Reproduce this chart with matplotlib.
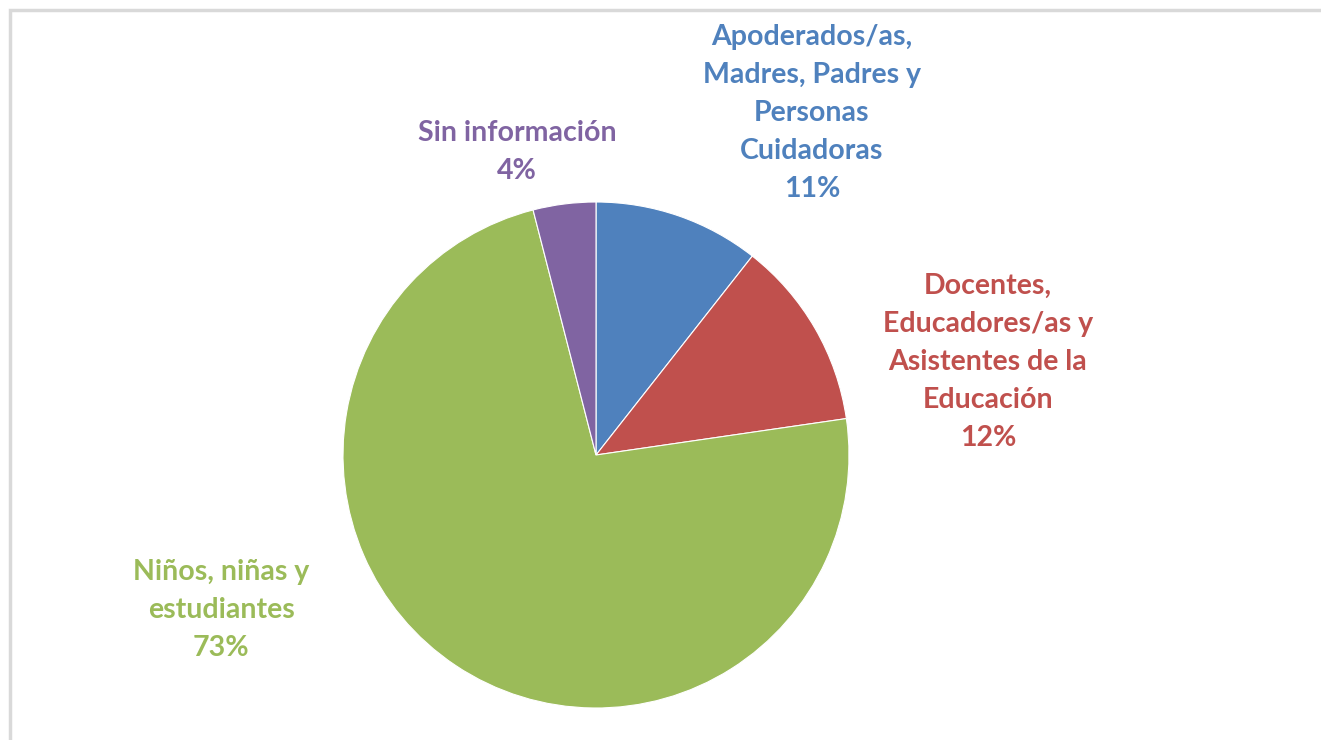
import matplotlib
matplotlib.use('Agg')
import matplotlib.pyplot as plt
from matplotlib.patches import Rectangle

# slices clockwise from 12 o'clock
categories = [
    'Apoderados/as,\nMadres, Padres y\nPersonas\nCuidadoras',
    'Docentes,\nEducadores/as y\nAsistentes de la\nEducación',
    'Niños, niñas y\nestudiantes',
    'Sin información',
]
shares = [10.6, 12.1, 73.3, 4.0]
colors = ['#4F81BD', '#C0504D', '#9BBB59', '#8064A2']
text_colors = ['#4F81BD', '#C0504D', '#9BBB59', '#8064A2']

# label anchor (pixel centre of each text block)
label_pos = [(812, 113), (988, 362), (221, 610), (517, 152)]

W, H = 1321, 740


def main():
    plt.rcParams['font.family'] = ['Lato', 'DejaVu Sans']
    fig = plt.figure(figsize=(W / 100, H / 100), dpi=100)
    ax = fig.add_axes([0, 0, 1, 1])

    ax.pie(shares, colors=colors, startangle=90, counterclock=False,
           center=(596, H - 455), radius=253, frame=True,
           wedgeprops=dict(edgecolor='white', linewidth=0.8))
    ax.set_xlim(0, W)
    ax.set_ylim(0, H)
    ax.set_aspect('equal')
    ax.axis('off')

    for name, val, col, (x, y) in zip(categories, shares, text_colors, label_pos):
        ax.text(x, H - y, f'{name}\n{val:.0f}%', color=col, fontsize=20.5,
                fontweight='bold', ha='center', va='center', linespacing=1.57)

    # light grey frame like the source screenshot
    fig.patches.append(Rectangle((10 / W, -0.1), 1.2, 1 - 10 / H + 0.1,
                                 transform=fig.transFigure, fill=False,
                                 edgecolor='#D9D9D9', linewidth=2.5))

    fig.savefig('out.png', dpi=100)


if __name__ == '__main__':
    main()
